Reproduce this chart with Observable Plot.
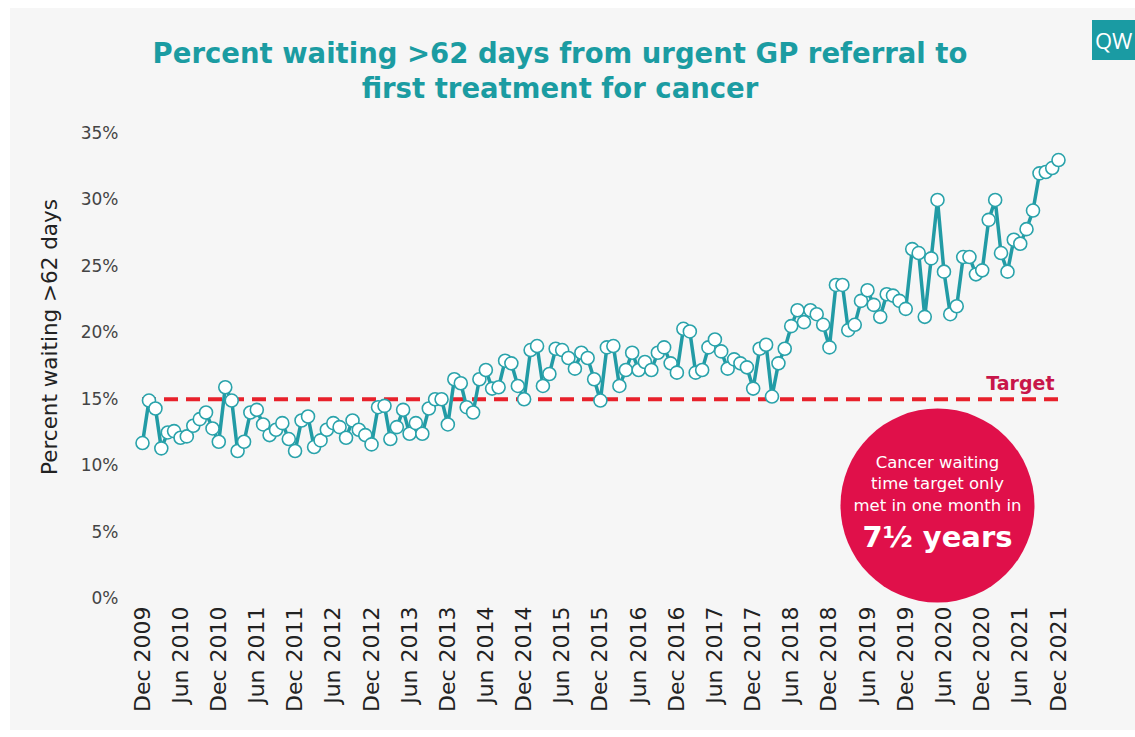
<!DOCTYPE html>
<html><head><meta charset="utf-8">
<script src="https://cdn.jsdelivr.net/npm/d3@7"></script>
<script src="https://cdn.jsdelivr.net/npm/@observablehq/plot@0.6"></script>
<style>
body{margin:0;background:#fff;font-family:"DejaVu Sans",sans-serif;width:1135px;height:737px;overflow:hidden;position:relative;}
#panel{position:absolute;left:10px;top:8px;width:1125px;height:722px;background:#f6f6f6;}
#title{position:absolute;left:0;top:36px;width:1120px;text-align:center;color:#1b9ca2;font-weight:bold;font-size:27.5px;line-height:35px;}
#logo{position:absolute;left:1092px;top:20px;width:43px;height:40px;background:#1a9ba3;color:#fff;font-size:22px;line-height:40px;overflow:hidden;padding-left:3px;box-sizing:border-box;font-family:"Open Sans",sans-serif;}
#chart{position:absolute;left:0;top:110px;}
</style></head>
<body>
<div id="panel"></div>
<div id="title">Percent waiting &gt;62 days from urgent GP referral to<br>first treatment for cancer</div>
<div id="logo">QW</div>
<div id="chart"></div>
<script>
// Monthly series, Dec 2009 .. Dec 2021 (percent waiting > 62 days)
const firstMonth = "2009-12";
const lastMonth = "2021-12";
const percentWaiting = [
  11.7, 14.9, 14.3, 11.3, 12.5, 12.6, 12.1, 12.2, 13.0, 13.5, 14.0, 12.8,
  11.8, 15.9, 14.9, 11.1, 11.8, 14.0, 14.2, 13.1, 12.3, 12.7, 13.2, 12.0,
  11.1, 13.4, 13.7, 11.4, 11.9, 12.7, 13.2, 12.9, 12.1, 13.4, 12.7, 12.3,
  11.6, 14.4, 14.5, 12.0, 12.9, 14.2, 12.4, 13.2, 12.4, 14.3, 15.0, 15.0,
  13.1, 16.5, 16.2, 14.4, 14.0, 16.5, 17.2, 15.8, 15.9, 17.9, 17.7, 16.0,
  15.0, 18.7, 19.0, 16.0, 16.9, 18.8, 18.7, 18.1, 17.3, 18.5, 18.1, 16.5,
  14.9, 18.9, 19.0, 16.0, 17.2, 18.5, 17.2, 17.8, 17.2, 18.5, 18.9, 17.7,
  17.0, 20.3, 20.1, 17.0, 17.2, 18.9, 19.5, 18.6, 17.3, 18.0, 17.7, 17.4,
  15.8, 18.8, 19.1, 15.2, 17.7, 18.8, 20.5, 21.7, 20.8, 21.7, 21.4, 20.6,
  18.9, 23.6, 23.6, 20.2, 20.6, 22.4, 23.2, 22.1, 21.2, 22.9, 22.8, 22.4,
  21.8, 26.3, 26.0, 21.2, 25.6, 30.0, 24.6, 21.4, 22.0, 25.7, 25.7, 24.4,
  24.7, 28.5, 30.0, 26.0, 24.6, 27.0, 26.7, 27.8, 29.2, 32.0, 32.1, 32.4,
  33.0
];
const tickLabels = [
  "Dec 2009","Jun 2010","Dec 2010","Jun 2011","Dec 2011","Jun 2012","Dec 2012",
  "Jun 2013","Dec 2013","Jun 2014","Dec 2014","Jun 2015","Dec 2015","Jun 2016",
  "Dec 2016","Jun 2017","Dec 2017","Jun 2018","Dec 2018","Jun 2019","Dec 2019",
  "Jun 2020","Dec 2020","Jun 2021","Dec 2021"
];
const yTicks = [0, 5, 10, 15, 20, 25, 30, 35];
const yLabel = "Percent waiting >62 days";
const targetValue = 15;
const targetLabel = "Target";
const noteMonth = "2020-05";
const noteValue = 7.0;
const noteLines = ["Cancer waiting", "time target only", "met in one month in"];
const noteBig = "7½ years";

const parseMonth = d3.utcParse("%Y-%m");
const parseTick = d3.utcParse("%b %Y");
const months = d3.utcMonth.range(parseMonth(firstMonth), d3.utcMonth.offset(parseMonth(lastMonth), 1));
const data = months.map((d, i) => ({date: d, value: percentWaiting[i]}));
const tickDates = tickLabels.map(parseTick);
const note = [{date: parseMonth(noteMonth), value: noteValue}];

const teal = "#229ba5";
const crimson = "#e0104a";

const noteTextMarks = noteLines.map((t, i) =>
  Plot.text(note, {x: "date", y: "value", text: () => t, dy: -43 + i * 21.5, fontSize: 16.5, fill: "white"})
);

const chart = Plot.plot({
  width: 1135,
  height: 620,
  marginLeft: 142,
  marginRight: 77,
  marginTop: 23,
  marginBottom: 132,
  style: {background: "transparent", fontFamily: "DejaVu Sans, sans-serif", color: "#3a3a3a"},
  x: {type: "utc", domain: [parseMonth(firstMonth), parseMonth(lastMonth)]},
  y: {domain: [0, 35]},
  marks: [
    Plot.axisX({ticks: tickDates, tickFormat: d3.utcFormat("%b %Y"), tickRotate: -90, tickSize: 0, tickPadding: 8, fontSize: 22, label: null, fill: "#222"}),
    Plot.axisY({ticks: yTicks, tickFormat: d => d + "%", tickSize: 0, tickPadding: 24, fontSize: 17, label: null, fill: "#444"}),
    Plot.text([yLabel], {frameAnchor: "left", text: d => d, textAnchor: "middle", rotate: -90, dx: -92, dy: -29, fontSize: 21.5, fill: "#222"}),
    Plot.ruleY([targetValue], {stroke: "#e8212b", strokeWidth: 4, strokeDasharray: "14,8"}),
    Plot.text([targetLabel], {x: () => parseMonth(lastMonth), y: () => targetValue, text: d => d, textAnchor: "end", dx: -4, dy: -15, fontSize: 19, fontWeight: "bold", fill: "#c8164a"}),
    Plot.line(data, {x: "date", y: "value", stroke: teal, strokeWidth: 3.5}),
    Plot.dot(data, {x: "date", y: "value", r: 6.5, fill: "white", stroke: "#2aa3ab", strokeWidth: 1.6}),
    Plot.dot(note, {x: "date", y: "value", r: 97, fill: crimson, stroke: "none"}),
    ...noteTextMarks,
    Plot.text(note, {x: "date", y: "value", text: () => noteBig, dy: 32, fontSize: 29, fontWeight: "bold", fill: "white"})
  ]
});
document.getElementById("chart").appendChild(chart);
</script>
</body></html>
